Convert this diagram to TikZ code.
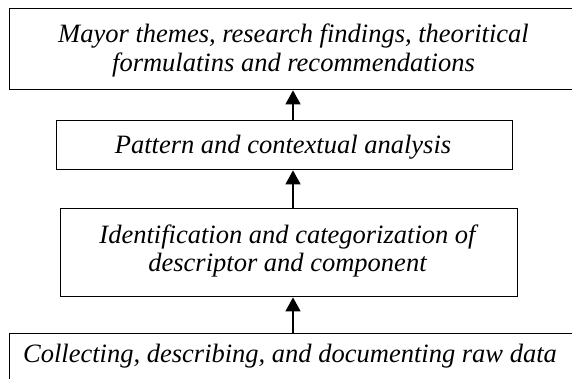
\documentclass[tikz,border=0pt]{standalone}
\usepackage{fontspec}
\setmainfont{Liberation Serif}
\usetikzlibrary{arrows.meta}
\begin{document}
\begin{tikzpicture}[x=1pt,y=-1pt,
  box/.style={draw=black,line width=1.4pt,inner sep=0pt,anchor=north west},
  txt/.style={anchor=base,inner sep=0pt,font=\fontsize{26.5}{29}\selectfont\itshape},
  arr/.style={line width=1.5pt,-{Triangle[length=14pt,width=15pt]}}]
\useasboundingbox (0,0) rectangle (572,379);
\clip (0,0) rectangle (572,379);
\fill[white] (0,0) rectangle (572,379);
% boxes
\node[box,minimum width=576pt,minimum height=81pt] (b1) at (9,8) {};
\node[box,minimum width=456pt,minimum height=49pt] (b2) at (56,120) {};
\node[box,minimum width=457pt,minimum height=88pt] (b3) at (60,208) {};
\node[box,minimum width=576pt,minimum height=62pt] (b4) at (9,333) {};
% texts
\node[txt] (t1a) at (293.5,43) {Mayor themes, research findings, theoritical};
\node[txt] (t1b) at (293.5,72) {formulatins and recommendations};
\node[txt] (t2) at (283,154) {Pattern and contextual analysis};
\node[txt] (t3a) at (287.5,243) {Identification and categorization of};
\node[txt] (t3b) at (287.5,271) {descriptor and component};
\node[txt] (t4) at (290,362) {Collecting, describing, and documenting raw data};
% arrows
\coordinate (ax) at (293,0);
\draw[arr] (b2.north -| ax) -- (b1.south -| ax);
\draw[arr] (b3.north -| ax) -- (b2.south -| ax);
\draw[arr] (b4.north -| ax) -- (b3.south -| ax);
\end{tikzpicture}
\end{document}
